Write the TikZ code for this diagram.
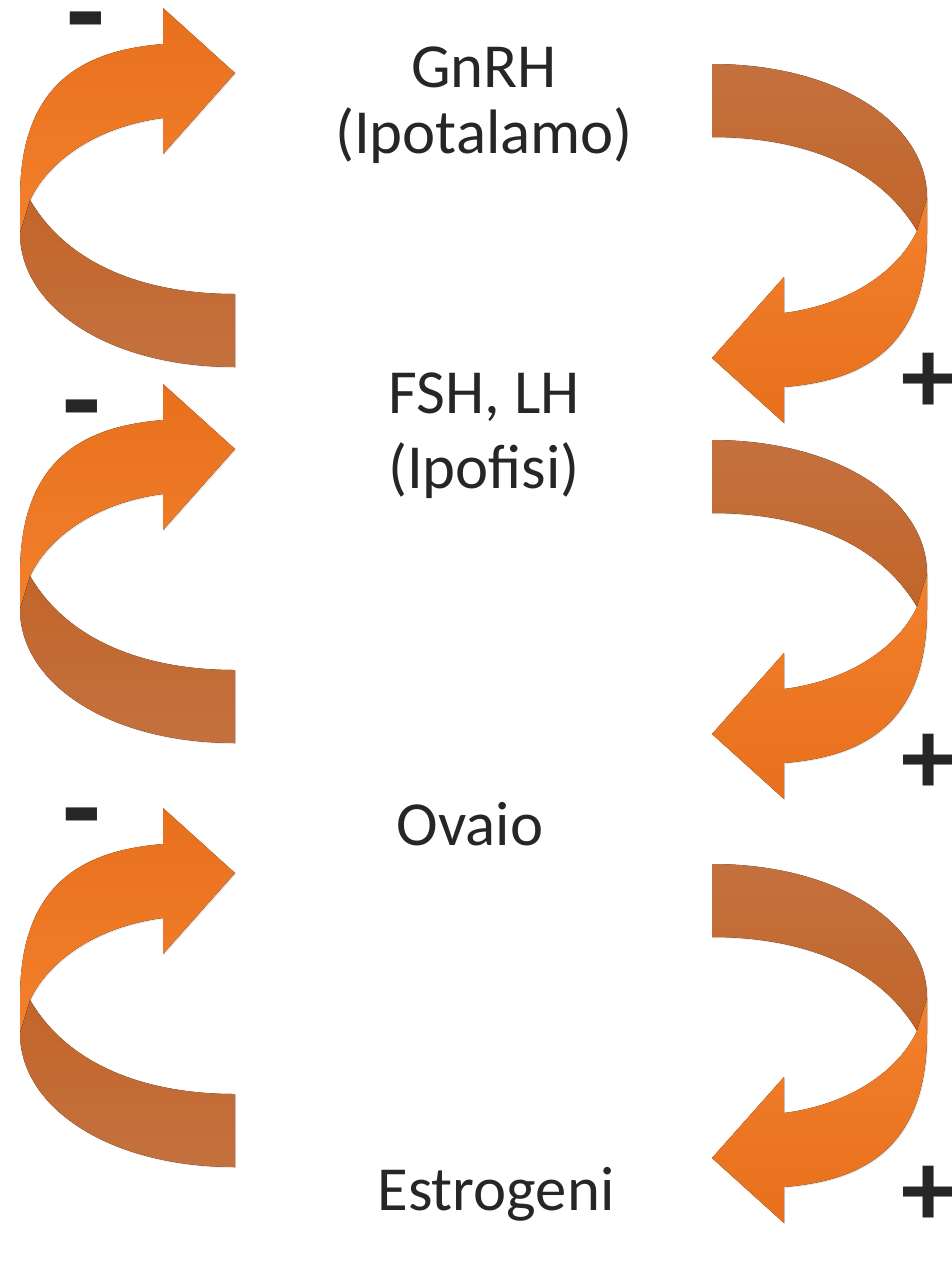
\documentclass[tikz,border=0pt]{standalone}
\usepackage{fontspec}
\setmainfont{Carlito}
\usetikzlibrary{shadows}

\definecolor{orangedark}{HTML}{E8701D}
\definecolor{orangelight}{HTML}{F2802C}
\definecolor{browndark}{HTML}{C2652A}
\definecolor{brownlight}{HTML}{C4713F}
\definecolor{textgray}{HTML}{262626}

\begin{document}
\begin{tikzpicture}[
    x=0.02cm, y=-0.02cm,
    every node/.style={text=textgray, inner sep=0pt},
    label/.style={font=\fontsize{35.7}{37.4}\selectfont, align=center, anchor=base},
    minus/.style={font=\fontsize{72}{72}\selectfont\bfseries},
    plus/.style={font=\fontsize{62}{62}\selectfont\bfseries},
    soft/.style={drop shadow={opacity=0.2, shadow xshift=0.6pt, shadow yshift=-0.6pt}},
    frontL/.style={soft, top color=orangedark, bottom color=orangelight},
    backL/.style={soft, top color=browndark, bottom color=brownlight},
    frontR/.style={soft, top color=orangelight, bottom color=orangedark},
    backR/.style={soft, top color=brownlight, bottom color=browndark},
    loopL/.pic={
        \fill[frontL] (163,36) .. controls (90,42) and (20,70) .. (20,190) -- (20,225)
            -- (30,192) .. controls (50,150) and (100,118) .. (163,110)
            -- (163,146) -- (235,65) -- (163,0) -- cycle;
        \fill[backL] (20,225) .. controls (20,300) and (110,359) .. (235,359)
            -- (235,286) .. controls (150,286) and (70,260) .. (30,192) -- cycle;
    },
    loopR/.pic={
        \fill[backR] (927,134) .. controls (927,59) and (837,0) .. (712,0)
            -- (712,73) .. controls (797,73) and (877,99) .. (917,167) -- cycle;
        \fill[frontR] (784,323) .. controls (857,317) and (927,289) .. (927,169) -- (927,134)
            -- (917,167) .. controls (897,209) and (847,241) .. (784,249)
            -- (784,213) -- (712,294) -- (784,359) -- cycle;
    }
]
\useasboundingbox (0,0) rectangle (951,1265);

% --- left loops ---
\begin{scope}[shift={(0,8)}] \pic {loopL}; \end{scope}
\begin{scope}[shift={(0,384)}, yscale=1.045] \pic {loopL}; \end{scope}
\begin{scope}[shift={(0,808)}, yscale=1.111] \pic {loopL}; \end{scope}

% --- right loops ---
\begin{scope}[shift={(0,64)}] \pic {loopR}; \end{scope}
\begin{scope}[shift={(0,440)}, yscale=1.05] \pic {loopR}; \end{scope}
\begin{scope}[shift={(0,864)}, yscale=1.111] \pic {loopR}; \end{scope}

% --- hormones ---
\node[label] (gnrh) at (484,153) {GnRH\\(Ipotalamo)};
\node[label] (fshlh) at (484,488) {FSH, LH\\[5pt](Ipofisi)};
\node[label] (ovaio) at (470,845) {Ovaio};
\node[label] (estrogeni) at (496,1210) {Estrogeni};

% --- signs ---
\node[minus] (neg1) at (86,33) {-};
\node[minus] (neg2) at (82,421) {-};
\node[minus] (neg3) at (82,829) {-};
\node[plus] (pos1) at (929,383) {+};
\node[plus] (pos2) at (929,764) {+};
\node[plus] (pos3) at (929,1196) {+};

\end{tikzpicture}
\end{document}
